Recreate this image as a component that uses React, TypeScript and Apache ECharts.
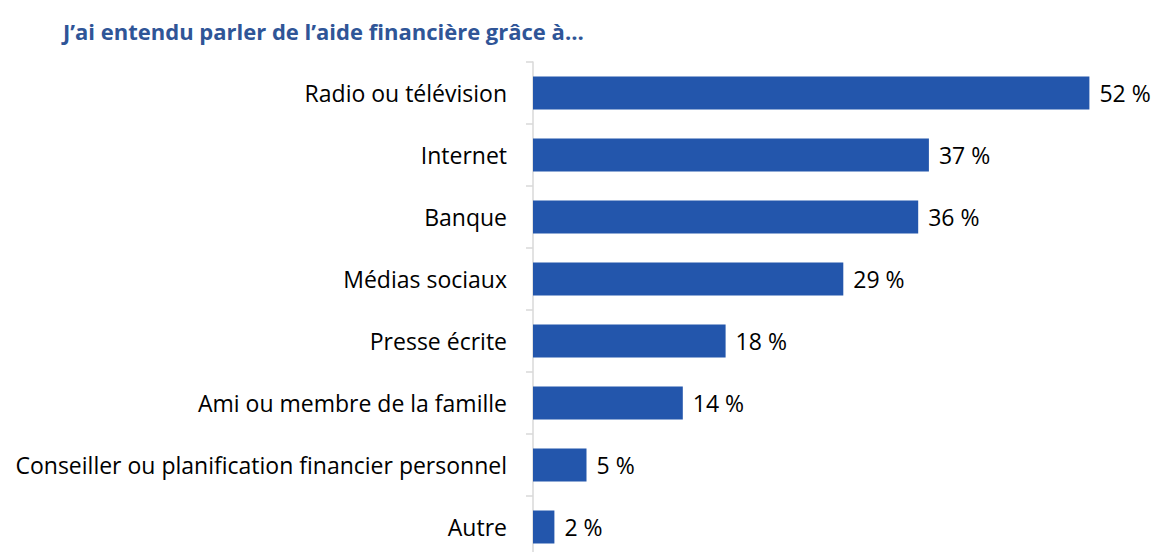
import React, { useEffect, useRef } from "react";
import * as echarts from "echarts";

const categories = [
  "Radio ou télévision",
  "Internet",
  "Banque",
  "Médias sociaux",
  "Presse écrite",
  "Ami ou membre de la famille",
  "Conseiller ou planification financier personnel",
  "Autre",
];
const values = [52, 37, 36, 29, 18, 14, 5, 2];
const titleText = "J’ai entendu parler de l’aide financière grâce à…";

export default function App() {
  const ref = useRef<HTMLDivElement>(null);
  useEffect(() => {
    if (!ref.current) return;
    const chart = echarts.init(ref.current, null, { renderer: "svg" });
    chart.setOption({
      animation: false,
      title: {
        text: titleText,
        left: 58,
        top: 15,
        textStyle: {
          fontFamily: "Open Sans",
          fontWeight: "bold",
          fontSize: 22,
          color: "#2F5597",
        },
      },
      grid: { left: 533, top: 62, width: 588.5, height: 496 },
      xAxis: {
        type: "value",
        min: 0,
        max: 55,
        show: false,
      },
      yAxis: {
        type: "category",
        data: categories,
        inverse: true,
        axisLine: { show: true, lineStyle: { color: "#D9D9D9", width: 1.5 } },
        axisTick: { show: true, length: 7, lineStyle: { color: "#D9D9D9", width: 1.5 } },
        axisLabel: {
          margin: 26,
          color: "#000000",
          fontFamily: "Open Sans",
          fontSize: 23,
        },
        splitLine: { show: false },
      },
      series: [
        {
          type: "bar",
          data: values,
          barWidth: 33,
          itemStyle: { color: "#2356AC" },
          label: {
            show: true,
            position: "right",
            distance: 10,
            formatter: (p: any) => `${p.value} %`,
            color: "#000000",
            fontFamily: "Open Sans",
            fontSize: 23,
          },
        },
      ],
    });
    return () => chart.dispose();
  }, []);
  return (
    <div
      style={{ position: "absolute", left: 0, top: 0, width: 1153, height: 552, overflow: "hidden", background: "#fff" }}
    >
      <div ref={ref} style={{ width: 1153, height: 564 }} />
    </div>
  );
}
